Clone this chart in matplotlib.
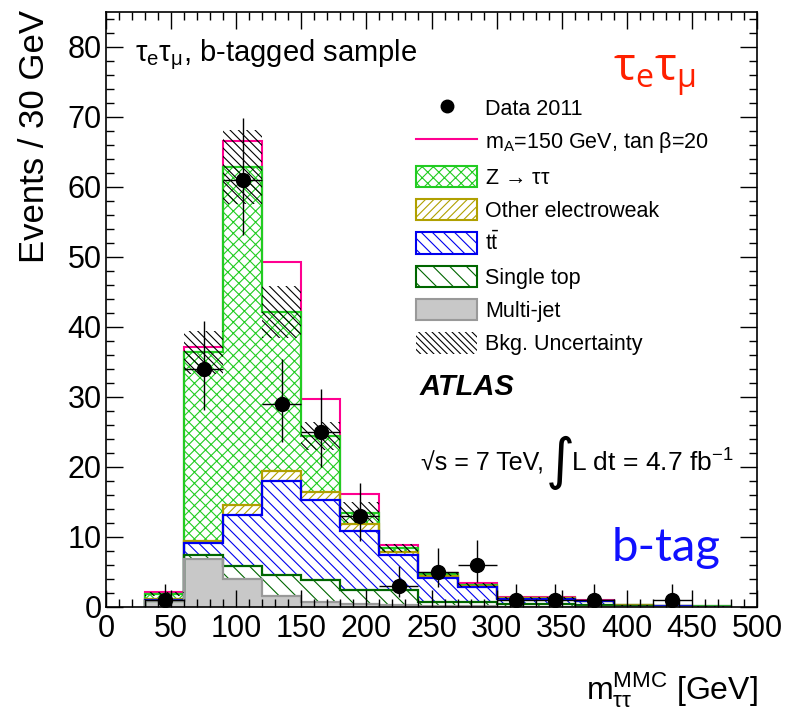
import matplotlib
matplotlib.use("Agg")
import matplotlib.pyplot as plt
import numpy as np
from matplotlib.patches import Patch
from matplotlib.lines import Line2D
from matplotlib.ticker import MultipleLocator

plt.rcParams['font.family'] = ['Liberation Sans', 'DejaVu Sans']
plt.rcParams['hatch.linewidth'] = 0.8

# bins of 30 GeV from 30 to 480 GeV
edges = np.arange(30, 481, 30)

# background components (events per bin), bottom of stack first
multijet = [0.8, 6.9, 4.0, 1.6, 0.7, 0.5, 0.3, 0.15, 0.1, 0.05, 0.05, 0.05, 0.02, 0.02, 0.01]
single_top = [0.1, 0.5, 1.9, 3.0, 3.2, 2.0, 2.1, 0.6, 0.65, 0.35, 0.35, 0.25, 0.08, 0.03, 0.02]
ttbar = [0.1, 1.8, 7.2, 13.4, 11.4, 8.3, 5.1, 3.35, 2.05, 0.8, 0.8, 0.5, 0.1, 0.05, 0.03]
other_ew = [0.1, 0.3, 1.5, 1.4, 1.1, 1.1, 0.4, 0.3, 0.2, 0.05, 0.05, 0.05, 0.02, 0.02, 0.01]
ztautau = [0.8, 26.9, 48.2, 22.8, 8.0, 1.6, 0.5, 0.3, 0.2, 0.05, 0.05, 0.05, 0.03, 0.01, 0.01]
signal = [0.2, 0.8, 3.8, 7.1, 5.3, 2.6, 0.5, 0.2, 0.3, 0.1, 0.1, 0.05, 0.02, 0.01, 0.0]
bkg_unc = [0.3, 3.1, 5.3, 3.7, 2.0, 1.5, 0.6, 0.3, 0.3, 0.1, 0.1, 0.1, 0.05, 0.03, 0.02]

# data 2011
data_x = [45, 75, 105, 135, 165, 195, 225, 255, 285, 315, 345, 375, 435]
data_y = [1, 34, 61, 29, 25, 13, 3, 5, 6, 1, 1, 1, 1]
data_err_lo = [0.8, 5.8, 7.8, 5.4, 5.0, 3.6, 1.6, 2.2, 2.4, 0.8, 0.8, 0.8, 0.8]
data_err_hi = [2.3, 6.9, 8.8, 6.5, 6.1, 4.7, 2.9, 3.4, 3.6, 2.3, 2.3, 2.3, 2.3]

W, H = 785, 711
def fx(px):
    return px / W
def fy(py):
    return 1 - py / H

fig = plt.figure(figsize=(W / 100, H / 100), dpi=100)
ax = fig.add_axes([fx(106), fy(607), (757 - 106) / W, (607 - 12) / H])

c_z = '#22cc22'
c_ew = '#b0a000'
c_tt = '#0000ee'
c_st = '#006600'
c_mj = '#c8c8c8'
c_mj_line = '#999999'
c_sig = '#ff0090'

comps = [
    (multijet, c_mj, c_mj_line, None),
    (single_top, 'white', c_st, '\\\\'),
    (ttbar, 'white', c_tt, '\\\\\\'),
    (other_ew, 'white', c_ew, '////'),
    (ztautau, 'white', c_z, 'xxx'),
]

bottom = np.zeros(len(edges) - 1)
tops = []
for vals, fc, ec, hatch in comps:
    top = bottom + np.array(vals)
    ax.stairs(top, edges, baseline=bottom, fill=True, facecolor=fc,
              edgecolor=ec if hatch else fc, hatch=hatch, linewidth=0)
    tops.append(top)
    bottom = top
total = bottom

# signal on top of the background
ax.stairs(total + np.array(signal), edges, baseline=0, color=c_sig, lw=1.5)

# outlines, largest first like ROOT
for top, (_, _, ec, _) in reversed(list(zip(tops, comps))):
    ax.stairs(top, edges, baseline=0, color=ec, lw=1.6)

# background uncertainty band
unc = np.array(bkg_unc)
ax.stairs(total + unc, edges, baseline=total - unc, fill=True, facecolor='none',
          edgecolor='black', hatch='\\\\\\\\', linewidth=0)

ax.errorbar(data_x, data_y, xerr=15, yerr=[data_err_lo, data_err_hi], fmt='o',
            color='black', ms=10, elinewidth=1, capsize=0)

ax.set_xlim(0, 500)
ax.set_ylim(0, 85)
ax.set_xticks(range(0, 501, 50))
ax.set_yticks(range(0, 81, 10))
ax.xaxis.set_minor_locator(MultipleLocator(10))
ax.yaxis.set_minor_locator(MultipleLocator(2))
ax.tick_params(which='both', direction='in', top=True, right=True, labelsize=22, width=1)
ax.tick_params(which='major', length=12)
ax.tick_params(which='minor', length=6)
ax.tick_params(axis='x', pad=5)
ax.tick_params(axis='y', pad=3)
for s in ax.spines.values():
    s.set_linewidth(1.2)

# legend
handles = [
    Line2D([], [], marker='o', ls='none', color='black', ms=9),
    Line2D([], [], color=c_sig, lw=1.5),
    Patch(facecolor='white', edgecolor=c_z, hatch='xxx', lw=1.5),
    Patch(facecolor='white', edgecolor=c_ew, hatch='////', lw=1.5),
    Patch(facecolor='white', edgecolor=c_tt, hatch='\\\\\\', lw=1.5),
    Patch(facecolor='white', edgecolor=c_st, hatch='\\\\', lw=1.5),
    Patch(facecolor=c_mj, edgecolor=c_mj_line, lw=1.5),
    Patch(facecolor='none', edgecolor='black', hatch='\\\\\\\\\\', lw=0),
]
labels = [
    'Data 2011',
    r'$\mathregular{m_A}$=150 GeV, tan β=20',
    r'Z → $\mathregular{\tau\tau}$',
    'Other electroweak',
    r'$\mathregular{t\bar{t}}$',
    'Single top',
    'Multi-jet',
    'Bkg. Uncertainty',
]
fig.legend(handles, labels, loc='upper left', bbox_to_anchor=(fx(416), fy(97)),
           frameon=False, fontsize=15.5, handlelength=2.85, handleheight=1.15,
           labelspacing=0.48, handletextpad=0.35, borderpad=0, borderaxespad=0)

# annotations
fig.text(fx(135), fy(55), r'$\mathregular{\tau_e\tau_\mu}$, b-tagged sample', fontsize=21, va='center')
fig.text(fx(613), fy(75), r'$\mathregular{\tau_e\tau_\mu}$', fontsize=33, color='#ff2000',
         family=['Open Sans', 'DejaVu Sans'], va='center')
fig.text(fx(420), fy(387), 'ATLAS', fontsize=21, weight='bold', style='italic', va='center')
fig.text(fx(421), fy(463), '√s = 7 TeV,', fontsize=18, va='center')
fig.text(fx(546), fy(463), '∫', fontsize=40, va='center', family=['DejaVu Sans'])
fig.text(fx(571), fy(463), r'L dt = 4.7 fb$\mathregular{^{-1}}$', fontsize=19, va='center')
fig.text(fx(612), fy(548), 'b-tag', fontsize=34, color='#1010ff',
         family=['Lato', 'DejaVu Sans'], va='center')

fig.text(fx(758), fy(690), r'$\mathregular{m_{\tau\tau}^{MMC}}$ [GeV]', fontsize=23, ha='right', va='center')
fig.text(fx(35), fy(10), 'Events / 30 GeV', rotation=90, fontsize=25, ha='center', va='top')

fig.savefig('out.png', dpi=100)
